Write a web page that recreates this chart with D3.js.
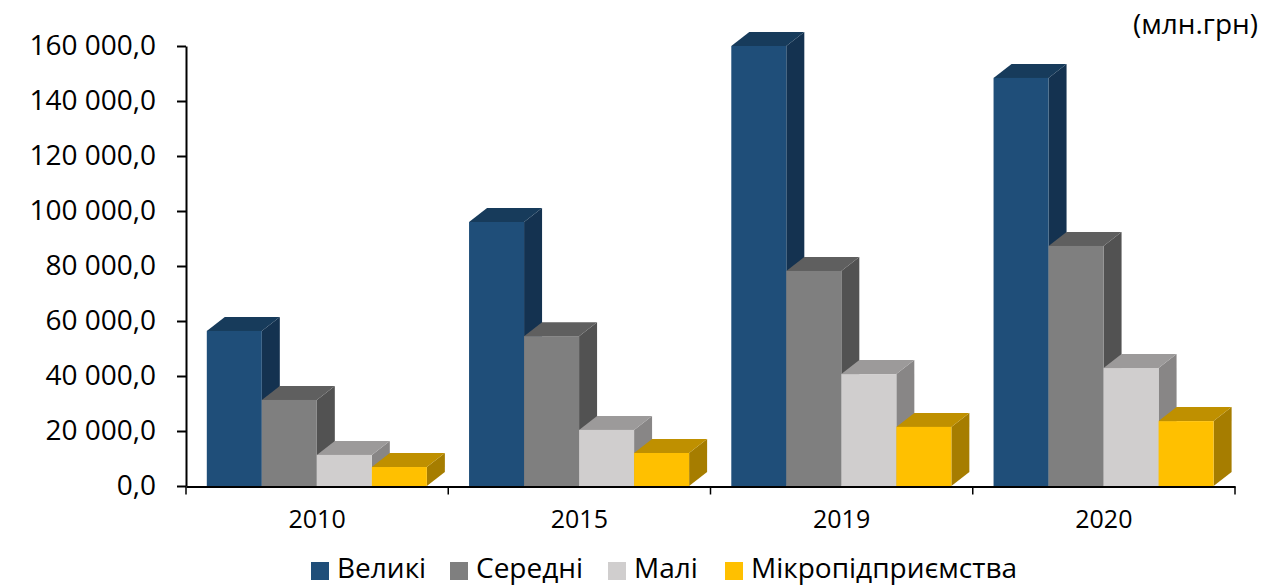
<!DOCTYPE html>
<html><head><meta charset="utf-8">
<script src="https://cdnjs.cloudflare.com/ajax/libs/d3/7.8.5/d3.min.js"></script>
<style>html,body{margin:0;background:#fff}svg{display:block}text{font-family:"Open Sans",sans-serif;fill:#000}</style>
</head><body><svg id="c" width="1262" height="586"></svg>
<script>
const years=["2010","2015","2019","2020"];
const seriesNames=["Великі","Середні","Малі","Мікропідприємства"];
const velyki=[56400,96000,160000,148400];
const seredni=[31300,54500,78200,87300];
const mali=[11300,20400,40700,42900];
const mikro=[6900,12000,21500,23600];
const seriesValues=[velyki,seredni,mali,mikro];
const frontColors=["#1f4e79","#7f7f7f","#d0cece","#ffc000"];
const topColors=["#173b5b","#5f5f5f","#9c9a9a","#bf9000"];
const sideColors=["#143250","#525252","#888686","#a67d00"];
const yTicks=[0,20000,40000,60000,80000,100000,120000,140000,160000];
const unit="(млн.грн)";

const svg=d3.select("#c");
const y=d3.scaleLinear().domain([0,160000]).range([486,46]);
const x0=d3.scaleBand().domain(years).range([186,1235]);
const x1=d3.scaleBand().domain(d3.range(4)).range([20.8,x0.bandwidth()-21.4]);
const dx=18,dy=-14;
const fmt=v=>d3.format(",.1f")(v).replace(/,/g," ").replace(".",",");

years.forEach((yr,i)=>{
  const g=svg.append("g").attr("transform",`translate(${x0(yr)},0)`);
  seriesValues.forEach((vals,s)=>{
    const l=x1(s),r=l+x1.bandwidth(),t=y(vals[i]),b=y(0);
    const pts=a=>a.map(p=>p.join(",")).join(" ");
    g.append("polygon").attr("points",pts([[r,t],[r+dx,t+dy],[r+dx,b+dy],[r,b]])).attr("fill",sideColors[s]);
    g.append("polygon").attr("points",pts([[l,t],[l+dx,t+dy],[r+dx,t+dy],[r,t]])).attr("fill",topColors[s]);
    g.append("rect").attr("x",l).attr("y",t).attr("width",x1.bandwidth()).attr("height",b-t).attr("fill",frontColors[s]);
  });
});

const ay=svg.append("g").attr("transform","translate(186,0)")
  .call(d3.axisLeft(y).tickValues(yTicks).tickFormat(fmt).tickSize(9).tickSizeOuter(0).tickPadding(21));
const ax=svg.append("g").attr("transform","translate(0,486.5)")
  .call(d3.axisBottom(x0).tickSize(0).tickPadding(24));
ax.selectAll(".tick line").remove();
ax.selectAll(".bt").data(d3.range(5)).enter().append("line").attr("class","bt")
  .attr("x1",i=>x0.range()[0]+i*x0.step()).attr("x2",i=>x0.range()[0]+i*x0.step())
  .attr("y1",0).attr("y2",8).attr("stroke","#000").attr("stroke-width",1.5);
[ay,ax].forEach(a=>{a.selectAll(".domain").attr("stroke","#000").attr("stroke-width",2);
  a.selectAll(".tick line").attr("stroke","#000").attr("stroke-width",2);});
ay.selectAll("text").style("font-size","28px").style("font-family",'"Open Sans",sans-serif');
ax.selectAll("text").style("font-size","25px").style("font-family",'"Open Sans",sans-serif');

svg.append("text").attr("x",1258).attr("y",34).attr("text-anchor","end").style("font-size","28px").text(unit);

const legX=[311,450,608,725];
seriesNames.forEach((n,i)=>{
  svg.append("rect").attr("x",legX[i]).attr("y",562).attr("width",18).attr("height",18).attr("fill",frontColors[i]);
  svg.append("text").attr("x",legX[i]+26).attr("y",577.5).style("font-size","28px").text(n);
});
</script></body></html>
